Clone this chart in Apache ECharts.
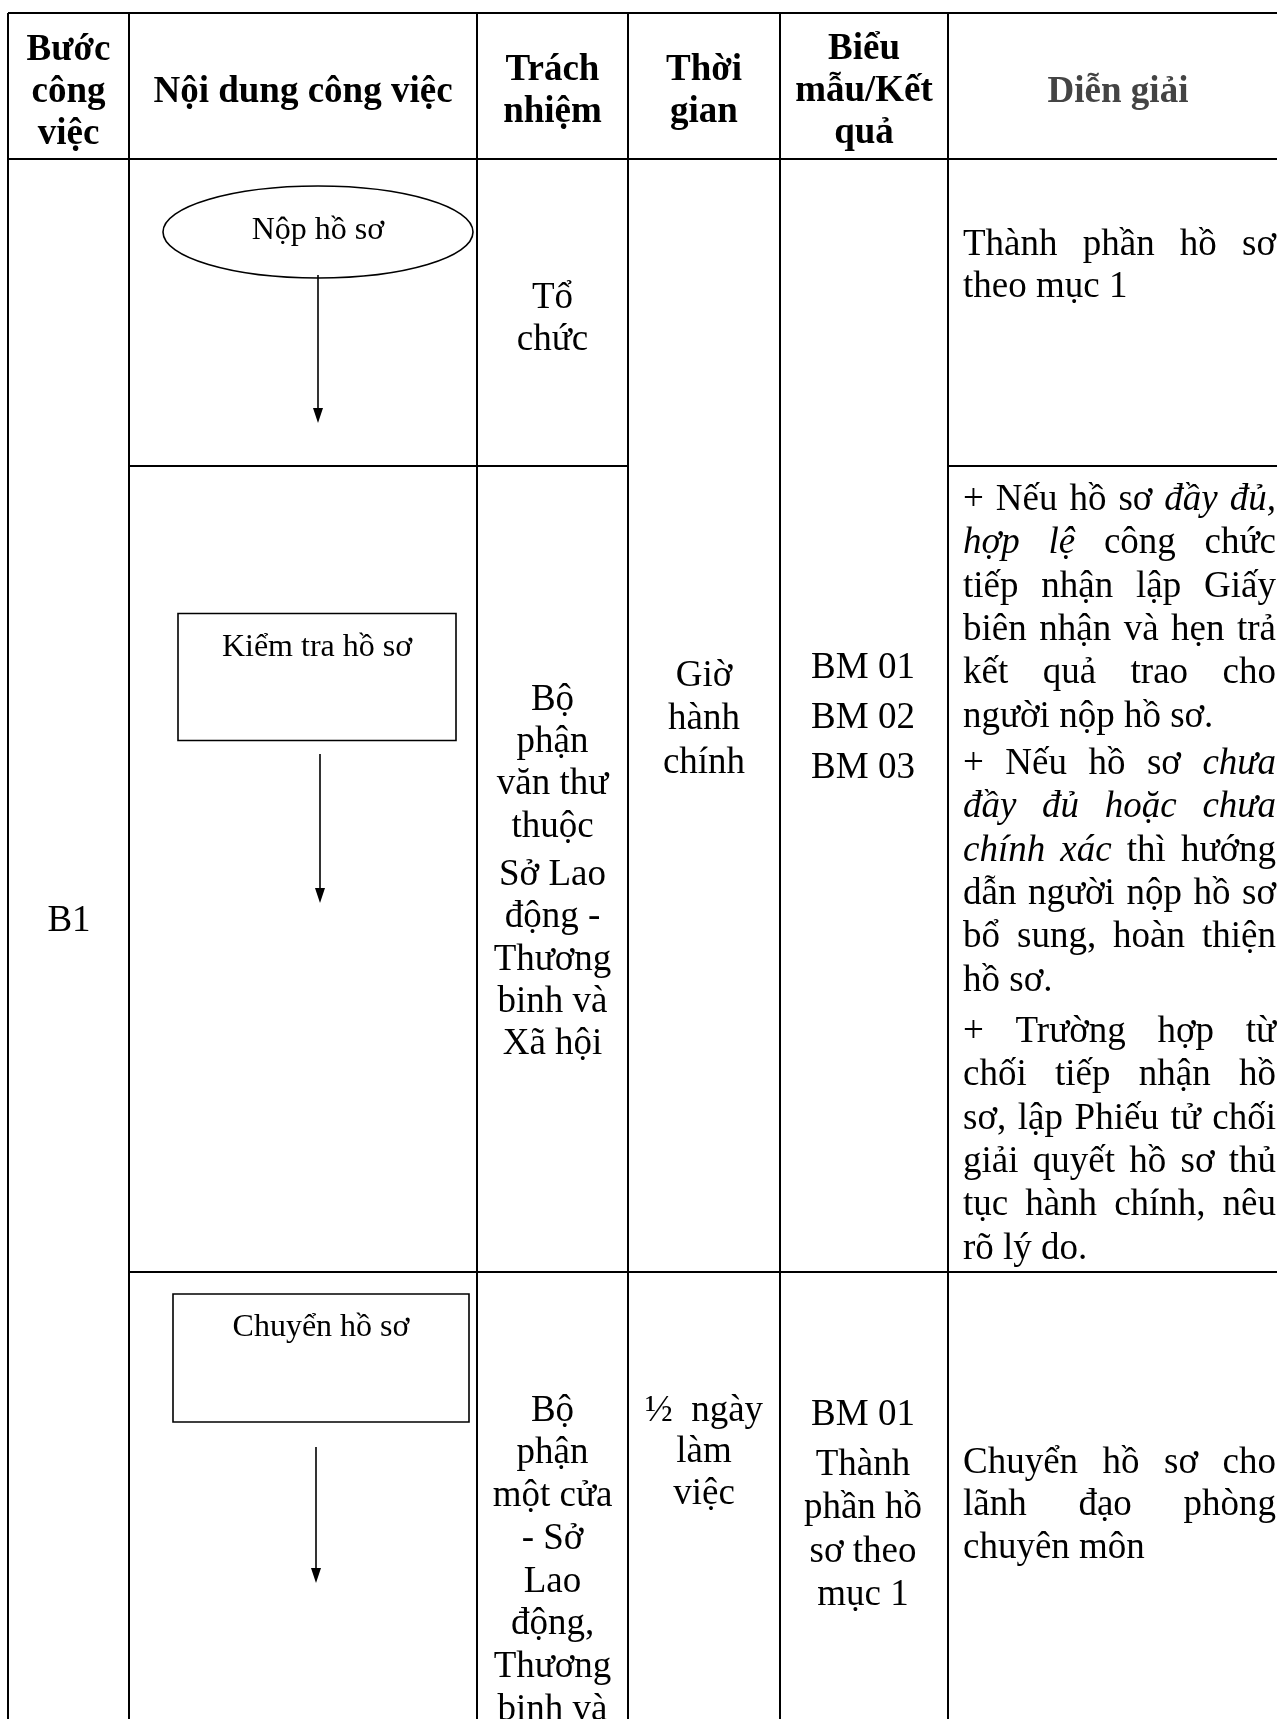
<!DOCTYPE html>
<html><head><meta charset="utf-8">
<script src="https://cdn.jsdelivr.net/npm/echarts@6/dist/echarts.min.js"></script>
<style>html,body{margin:0;padding:0;background:#fff}#c{width:1277px;height:1719px}</style>
</head><body><div id="c"></div>
<script>
// ---------- DATA (text content of the table) ----------
const headers = [['Bước','công','việc'], ['Nội dung công việc'], ['Trách','nhiệm'], ['Thời','gian'], ['Biểu','mẫu/Kết','quả'], ['Diễn giải']];
const stepCode = 'B1';
const flowSteps = ['Nộp hồ sơ', 'Kiểm tra hồ sơ', 'Chuyển hồ sơ'];
const flowShapes = ['ellipse', 'rect', 'rect'];
const responsible = [
  [['Tổ', 'chức']],
  [['Bộ', 'phận', 'văn thư', 'thuộc'], ['Sở Lao', 'động -', 'Thương', 'binh và', 'Xã hội']],
  [['Bộ', 'phận', 'một cửa', '- Sở', 'Lao', 'động,', 'Thương', 'binh và', 'Xã hội']]
];
const timeText = [
  [['Giờ', 'hành', 'chính']],
  [['½  ngày', 'làm', 'việc']]
];
const formText = [
  [['BM 01'], ['BM 02'], ['BM 03']],
  [['BM 01'], ['Thành', 'phần hồ', 'sơ theo', 'mục 1']]
];
// '~' marks an italic word
const explainRow1 = [['Thành phần hồ sơ', 'theo mục 1']];
const explainRow2 = [
  ['+ Nếu hồ sơ ~đầy ~đủ,', '~hợp ~lệ công chức', 'tiếp nhận lập Giấy', 'biên nhận và hẹn trả', 'kết quả trao cho', 'người nộp hồ sơ.'],
  ['+ Nếu hồ sơ ~chưa', '~đầy ~đủ ~hoặc ~chưa', '~chính ~xác thì hướng', 'dẫn người nộp hồ sơ', 'bổ sung, hoàn thiện', 'hồ sơ.'],
  ['+ Trường hợp từ', 'chối tiếp nhận hồ', 'sơ, lập Phiếu tử chối', 'giải quyết hồ sơ thủ', 'tục hành chính, nêu', 'rõ lý do.']
];
const explainRow3 = [['Chuyển hồ sơ cho', 'lãnh đạo phòng', 'chuyên môn']];

// ---------- LAYOUT ----------
const FONT = '"Liberation Serif", "Times New Roman", serif';
const cols = [8, 129, 477, 628, 780, 948, 1288];
const yTop = 13, headBottom = 159, row1 = 466, row2 = 1272, yBottom = 1719;
const textL = 963, textR = 1276;
const fs = 37, fsLab = 32;
const dy = 3; // visual baseline correction

const ctx = document.createElement('canvas').getContext('2d');
function font(it, bold, size) { return (it ? 'italic ' : '') + (bold ? 'bold ' : '') + size + 'px ' + FONT; }
function measure(t, f) { ctx.font = f; return ctx.measureText(t).width; }

const el = [];
function txt(text, x, y, opts) {
  opts = opts || {};
  el.push({ type: 'text', x: x, y: y + dy, silent: true, z: 10,
    style: { text: text, font: font(opts.it, opts.bold, opts.size || fs), fill: opts.fill || '#000',
      align: opts.align || 'center', verticalAlign: 'middle' } });
}
function line(x1, y1, x2, y2, w) {
  el.push({ type: 'line', silent: true, shape: { x1: x1, y1: y1, x2: x2, y2: y2 }, style: { stroke: '#000', lineWidth: w || 2 } });
}
function block(paras, cx, y0, step, paraGap, opts) {
  let y = y0;
  paras.forEach(function (p, pi) {
    if (pi > 0) y += paraGap;
    p.forEach(function (s) { txt(s, cx, y, opts); y += step; });
  });
}
function justified(paras, starts, step) {
  paras.forEach(function (p, pi) {
    let y = starts[pi];
    p.forEach(function (ln, li) {
      const words = ln.split(' ').map(function (w) { return { t: w.replace(/^~/, ''), it: w.charAt(0) === '~' }; });
      words.forEach(function (w) { w.w = measure(w.t, font(w.it, false, fs)); });
      const total = words.reduce(function (a, w) { return a + w.w; }, 0);
      const last = li === p.length - 1;
      const gap = (!last && words.length > 1) ? (textR - textL - total) / (words.length - 1) : measure(' ', font(false, false, fs));
      let x = textL;
      words.forEach(function (w) { txt(w.t, x, y, { it: w.it, align: 'left' }); x += w.w + gap; });
      y += step;
    });
  });
}

// grid lines
line(cols[0], yTop, cols[6], yTop);
line(cols[0], headBottom, cols[6], headBottom);
line(cols[1], row1, cols[3], row1);
line(cols[5], row1, cols[6], row1);
line(cols[1], row2, cols[6], row2);
cols.forEach(function (c) { line(c, yTop, c, yBottom); });

// header
const headStarts = [47, 89, 67, 67, 46, 89];
headers.forEach(function (h, i) {
  const cx = (cols[i] + cols[i + 1]) / 2;
  block([h], cx, headStarts[i], 42, 0, { bold: true, fill: i === 5 ? '#444' : '#000' });
});

// step code
txt(stepCode, 69, 918);

// flow chart
const shapeBoxes = [
  { cx: 318, cy: 232, w: 310, h: 92, ty: 228 },
  { cx: 317, cy: 677, w: 278, h: 127, ty: 645 },
  { cx: 321, cy: 1358, w: 296, h: 128, ty: 1325 }
];
const arrows = [[318, 275, 423], [320, 754, 903], [316, 1447, 1583]];
flowSteps.forEach(function (s, i) {
  const b = shapeBoxes[i];
  if (flowShapes[i] === 'ellipse') {
    el.push({ type: 'ellipse', silent: true, shape: { cx: b.cx, cy: b.cy, rx: b.w / 2, ry: b.h / 2 }, style: { fill: 'none', stroke: '#000', lineWidth: 1.6 } });
  } else {
    el.push({ type: 'rect', silent: true, shape: { x: b.cx - b.w / 2, y: b.cy - b.h / 2, width: b.w, height: b.h }, style: { fill: 'none', stroke: '#000', lineWidth: 1.6 } });
  }
  txt(s, b.cx, b.ty, { size: fsLab });
  const a = arrows[i];
  line(a[0], a[1], a[0], a[2] - 10, 1.6);
  el.push({ type: 'polygon', silent: true, shape: { points: [[a[0] - 5, a[2] - 15], [a[0] + 5, a[2] - 15], [a[0], a[2]]] }, style: { fill: '#000' } });
});

// responsibility column
const rcx = (cols[2] + cols[3]) / 2;
block(responsible[0], rcx, 295, 42, 0);
block(responsible[1], rcx, 697, 42.3, 6);
block(responsible[2], rcx, 1408, 42.7, 0);

// time column
const tcx = (cols[3] + cols[4]) / 2;
block(timeText[0], tcx, 673, 43.5, 0);
block(timeText[1], tcx, 1408, 41.5, 0);

// forms column
const fcx = (cols[4] + cols[5]) / 2 - 1;
block(formText[0], fcx, 665, 43.4, 6.6);
block(formText[1], fcx, 1412, 43.4, 6.6);

// explanation column
justified(explainRow1, [242], 42);
justified(explainRow2, [497, 761, 1029], 43.4);
justified(explainRow3, [1460], 42.5);

const chart = echarts.init(document.getElementById('c'), null, { renderer: 'canvas' });
chart.setOption({ backgroundColor: '#fff', animation: false, graphic: { elements: el } });
</script>
</body></html>
